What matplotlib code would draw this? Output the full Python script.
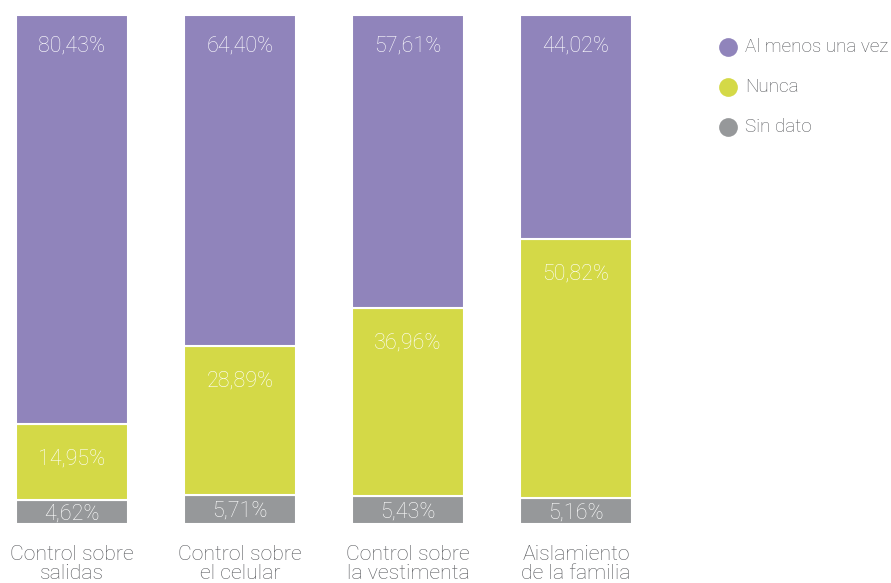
import matplotlib
matplotlib.use("Agg")
import matplotlib.pyplot as plt
from matplotlib.lines import Line2D

plt.rcParams['font.family'] = ['Roboto', 'DejaVu Sans']

categories = ["Control sobre\nsalidas", "Control sobre\nel celular", "Control sobre\nla vestimenta", "Aislamiento\nde la familia"]
sin_dato = [4.62, 5.71, 5.43, 5.16]
nunca = [14.95, 28.89, 36.96, 50.82]
al_menos = [80.43, 64.40, 57.61, 44.02]
series_names = ["Al menos una vez", "Nunca", "Sin dato"]

c_purple = "#9084BB"
c_green = "#D4D947"
c_gray = "#96989A"

# 100% stacked: normalise each bar to its total
tot = [a + b + c for a, b, c in zip(sin_dato, nunca, al_menos)]
g = [v / t * 100 for v, t in zip(sin_dato, tot)]
n = [v / t * 100 for v, t in zip(nunca, tot)]
p = [v / t * 100 for v, t in zip(al_menos, tot)]

fig = plt.figure(figsize=(8.91, 5.83), dpi=100)
W, H = 891, 583
ax = fig.add_axes([0, (H - 524) / H, 660 / W, 509 / H])
x = list(range(len(categories)))
bw = 112 / 168

ax.bar(x, g, width=bw, color=c_gray, edgecolor="white", linewidth=1.5)
ax.bar(x, n, width=bw, bottom=g, color=c_green, edgecolor="white", linewidth=1.5)
bot2 = [a + b for a, b in zip(g, n)]
ax.bar(x, p, width=bw, bottom=bot2, color=c_purple, edgecolor="white", linewidth=1.5)

def fmt(v):
    return f"{v:.2f}".replace(".", ",") + "%"

tkw = dict(color="white", fontsize=15.5, fontweight="light", ha="center")
for i in x:
    ax.annotate(fmt(sin_dato[i]), (i, g[i] / 2), xytext=(0, -1.5),
                textcoords="offset points", va="center", **tkw)
    ax.annotate(fmt(nunca[i]), (i, g[i] + n[i]), xytext=(0, -25),
                textcoords="offset points", va="center", **tkw)
    ax.annotate(fmt(al_menos[i]), (i, 100), xytext=(0, -22),
                textcoords="offset points", va="center", **tkw)
    ax.annotate(categories[i], (i, 0), xytext=(0, -15), textcoords="offset points",
                ha="center", va="top", fontsize=15.3, fontweight="light",
                color="#55575B", linespacing=0.98)

ax.set_xlim(-72 / 168, 3.5)
ax.set_ylim(0, 100)
ax.axis("off")

colors = [c_purple, c_green, c_gray]
for k, (name, col) in enumerate(zip(series_names, colors)):
    yy = 1 - (47 + 40 * k) / H
    fig.add_artist(Line2D([728 / W], [yy], marker="o", markersize=13.5, color=col,
                          markeredgewidth=0, transform=fig.transFigure))
    fig.text(745 / W, yy, name, fontsize=13.6, fontweight="light", color="#55575B",
             va="center", ha="left")

fig.savefig("out.png", dpi=100)
